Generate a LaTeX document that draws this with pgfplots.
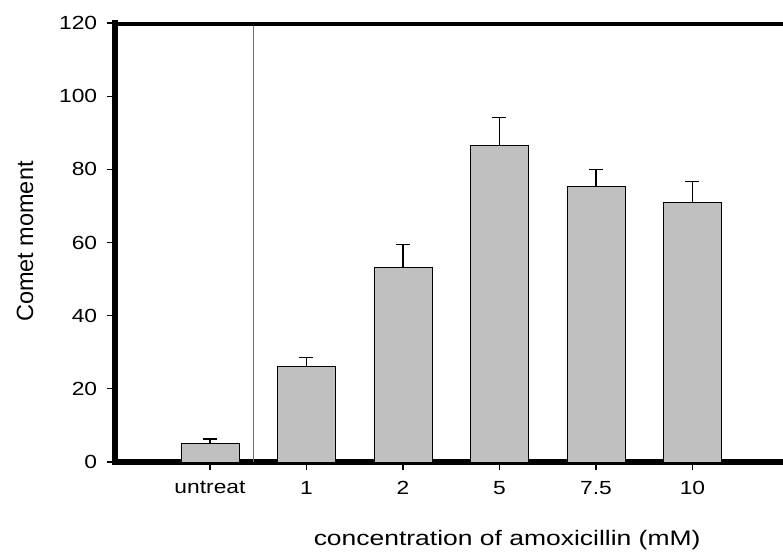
\documentclass[border=0pt]{standalone}
\usepackage{pgfplots}
\pgfplotsset{compat=1.18}
\usepackage{fontspec}
\setmainfont{Liberation Sans}
\definecolor{barGray}{RGB}{192,192,192}
\definecolor{sepGray}{RGB}{110,110,110}

\begin{document}
\begin{tikzpicture}
\begin{axis}[
    scale only axis,
    width=668pt, height=439pt,
    xmin=-0.984, xmax=5.938,
    ymin=0, ymax=120,
    axis x line*=bottom,
    axis y line*=left,
    axis line style={-, line width=6pt, line cap=rect},
    xtick={0,1,2,3,4,5},
    xticklabels={untreat,1,2,5,7.5,10},
    ytick={0,20,...,120},
    tick align=outside,
    major tick length=8pt,
    tick style={black, line width=1.1pt},
    /pgf/number format/assume math mode=true,
    tick label style={font=\fontsize{19}{22}\selectfont, xscale=1.2},
    yticklabel style={anchor=east, inner sep=0pt, xshift=-8pt},
    xticklabel style={anchor=north, inner sep=0pt, yshift=-11pt},
    xlabel={concentration of amoxicillin (mM)},
    ylabel={Comet moment},
    xlabel style={font=\fontsize{21}{24}\selectfont, at={(axis description cs:0.587,0)},
        anchor=center, yshift=-78pt, xscale=1.26},
    ylabel style={font=\fontsize{23.5}{26}\selectfont, at={(axis description cs:-0.1347,0.502)},
        anchor=center},
]
    % separator between control and treated groups
    \addplot[sepGray, line width=0.9pt] coordinates {(0.446,0) (0.446,120)};

    % comet moment, mean + SD
    \addplot[ybar, bar width=58pt, fill=barGray, draw=black, line width=0.8pt,
        error bars/.cd, y dir=plus, y explicit,
        error bar style={black, line width=1.3pt},
        error mark options={rotate=90, mark size=7pt, black, line width=1.3pt}]
    coordinates {
        (0,5.0)  +- (0,1.3)
        (1,26.1) +- (0,2.4)
        (2,53.2) +- (0,6.3)
        (3,86.5) +- (0,7.6)
        (4,75.4) +- (0,4.5)
        (5,70.9) +- (0,5.8)
    };

    \coordinate (ll) at (rel axis cs:0,0);
    \coordinate (ur) at (rel axis cs:1,1);
    % top frame line (no right-hand line in the original)
    \draw[black, line width=6pt, line cap=rect] (rel axis cs:0,1) -- (rel axis cs:1,1);
\end{axis}
\pgfresetboundingbox
\path ([shift={(-115pt,-97pt)}]ll) rectangle ([shift={(0pt,23pt)}]ur);
\end{tikzpicture}
\end{document}
